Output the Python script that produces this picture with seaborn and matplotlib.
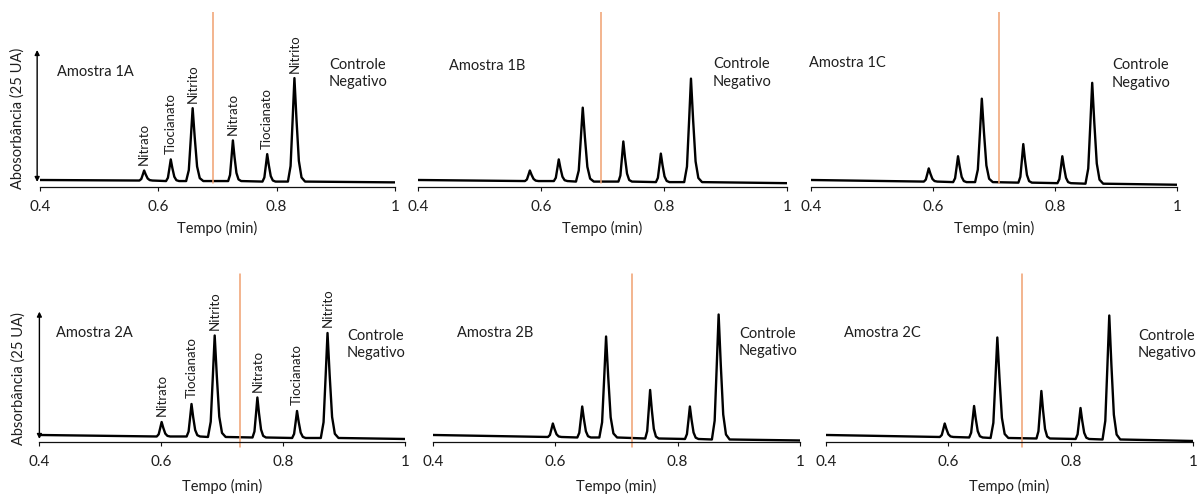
import numpy as np
import pandas as pd
import seaborn as sns
import matplotlib
matplotlib.use('Agg')
import matplotlib.pyplot as plt

# cromatogramas: tempo (min) e absorbancia (UA)
tempo_1a = [0.40,
            0.568, 0.5712, 0.5738, 0.576, 0.5787, 0.582, 0.5855, 0.590,
            0.613, 0.6162, 0.6188, 0.621, 0.6237, 0.627, 0.6305, 0.635,
            0.647, 0.6515, 0.655, 0.658, 0.6615, 0.6655, 0.670, 0.676,
            0.718, 0.7212, 0.7238, 0.726, 0.7287, 0.732, 0.7355, 0.740,
            0.776, 0.7792, 0.7818, 0.784, 0.7867, 0.790, 0.7935, 0.798,
            0.819, 0.8235, 0.827, 0.830, 0.8335, 0.8375, 0.842, 0.848,
            1.00]
abs_1a = [0.0,
          -0.1, 0.19, 1.04, 1.8, 1.04, 0.28, -0.02, -0.1,
          -0.2, 0.42, 2.26, 3.9, 2.26, 0.62, -0.04, -0.2,
          -0.2, 1.87, 8.08, 13.6, 8.08, 2.56, 0.35, -0.2,
          -0.2, 0.96, 4.42, 7.5, 4.42, 1.34, 0.11, -0.2,
          -0.3, 0.48, 2.82, 4.9, 2.82, 0.74, -0.09, -0.3,
          -0.3, 2.64, 11.46, 19.3, 11.46, 3.62, 0.48, -0.3,
          -0.45]

tempo_1b = [0.40,
            0.574, 0.5772, 0.5798, 0.582, 0.5847, 0.588, 0.5915, 0.596,
            0.621, 0.6242, 0.6268, 0.629, 0.6317, 0.635, 0.6385, 0.643,
            0.657, 0.6615, 0.665, 0.668, 0.6715, 0.6755, 0.680, 0.686,
            0.726, 0.7292, 0.7318, 0.734, 0.7367, 0.740, 0.7435, 0.748,
            0.787, 0.7902, 0.7928, 0.795, 0.7977, 0.801, 0.8045, 0.809,
            0.833, 0.8375, 0.841, 0.844, 0.8475, 0.8515, 0.856, 0.862,
            1.00]
abs_1b = [0.0,
          -0.2, 0.1, 1.0, 1.8, 1.0, 0.2, -0.12, -0.2,
          -0.2, 0.42, 2.26, 3.9, 2.26, 0.62, -0.04, -0.2,
          -0.3, 1.8, 8.1, 13.7, 8.1, 2.5, 0.26, -0.3,
          -0.3, 0.84, 4.26, 7.3, 4.26, 1.22, 0.0, -0.3,
          -0.4, 0.41, 2.84, 5.0, 2.84, 0.68, -0.18, -0.4,
          -0.4, 2.54, 11.36, 19.2, 11.36, 3.52, 0.38, -0.4,
          -0.6]

tempo_1c = [0.40,
            0.585, 0.5882, 0.5908, 0.593, 0.5957, 0.599, 0.6025, 0.607,
            0.633, 0.6362, 0.6388, 0.641, 0.6437, 0.647, 0.6505, 0.655,
            0.669, 0.6735, 0.677, 0.680, 0.6835, 0.6875, 0.692, 0.698,
            0.740, 0.7432, 0.7458, 0.748, 0.7507, 0.754, 0.7575, 0.762,
            0.804, 0.8072, 0.8098, 0.812, 0.8147, 0.818, 0.8215, 0.826,
            0.850, 0.8545, 0.858, 0.861, 0.8645, 0.8685, 0.873, 0.879,
            1.00]
abs_1c = [0.0,
          -0.3, 0.08, 1.2, 2.2, 1.2, 0.2, -0.2, -0.3,
          -0.4, 0.34, 2.54, 4.5, 2.54, 0.58, -0.2, -0.4,
          -0.4, 1.97, 9.08, 15.4, 9.08, 2.76, 0.23, -0.4,
          -0.5, 0.6, 3.88, 6.8, 3.88, 0.96, -0.21, -0.5,
          -0.6, 0.17, 2.46, 4.5, 2.46, 0.42, -0.4, -0.6,
          -0.7, 2.17, 10.76, 18.4, 10.76, 3.12, 0.06, -0.7,
          -0.9]

tempo_2a = [0.40,
            0.593, 0.5962, 0.5988, 0.601, 0.6037, 0.607, 0.6105, 0.615,
            0.642, 0.6452, 0.6478, 0.650, 0.6527, 0.656, 0.6595, 0.664,
            0.677, 0.6815, 0.685, 0.688, 0.6915, 0.6955, 0.700, 0.706,
            0.750, 0.7532, 0.7558, 0.758, 0.7607, 0.764, 0.7675, 0.772,
            0.815, 0.8182, 0.8208, 0.823, 0.8257, 0.829, 0.8325, 0.837,
            0.862, 0.8665, 0.870, 0.873, 0.8765, 0.8805, 0.885, 0.891,
            1.00]
abs_2a = [0.0,
          -0.3, 0.14, 1.44, 2.6, 1.44, 0.28, -0.18, -0.3,
          -0.3, 0.68, 3.6, 6.2, 3.6, 1.0, -0.04, -0.3,
          -0.4, 2.65, 11.78, 19.9, 11.78, 3.66, 0.41, -0.4,
          -0.5, 0.7, 4.3, 7.5, 4.3, 1.1, -0.18, -0.5,
          -0.6, 0.21, 2.64, 4.8, 2.64, 0.48, -0.38, -0.6,
          -0.6, 2.55, 12.0, 20.4, 12.0, 3.6, 0.24, -0.6,
          -0.8]

tempo_2b = [0.40,
            0.588, 0.5912, 0.5938, 0.596, 0.5987, 0.602, 0.6055, 0.610,
            0.636, 0.6392, 0.6418, 0.644, 0.6467, 0.650, 0.6535, 0.658,
            0.672, 0.6765, 0.680, 0.683, 0.6865, 0.6905, 0.695, 0.701,
            0.747, 0.7502, 0.7528, 0.755, 0.7577, 0.761, 0.7645, 0.769,
            0.812, 0.8152, 0.8178, 0.820, 0.8227, 0.826, 0.8295, 0.834,
            0.856, 0.8605, 0.864, 0.867, 0.8705, 0.8745, 0.879, 0.885,
            1.00]
abs_2b = [0.0,
          -0.4, 0.0, 1.22, 2.3, 1.22, 0.14, -0.29, -0.4,
          -0.5, 0.43, 3.22, 5.7, 3.22, 0.74, -0.25, -0.5,
          -0.5, 2.53, 11.62, 19.7, 11.62, 3.54, 0.31, -0.5,
          -0.7, 0.76, 5.12, 9.0, 5.12, 1.24, -0.31, -0.7,
          -0.8, 0.18, 3.1, 5.7, 3.1, 0.5, -0.54, -0.8,
          -0.9, 2.85, 14.1, 24.1, 14.1, 4.1, 0.1, -0.9,
          -1.1]

tempo_2c = [0.40,
            0.586, 0.5892, 0.5918, 0.594, 0.5967, 0.600, 0.6035, 0.608,
            0.634, 0.6372, 0.6398, 0.642, 0.6447, 0.648, 0.6515, 0.656,
            0.669, 0.6735, 0.677, 0.680, 0.6835, 0.6875, 0.692, 0.698,
            0.744, 0.7472, 0.7498, 0.752, 0.7547, 0.758, 0.7615, 0.766,
            0.808, 0.8112, 0.8138, 0.816, 0.8187, 0.822, 0.8255, 0.830,
            0.852, 0.8565, 0.860, 0.863, 0.8665, 0.8705, 0.875, 0.881,
            1.00]
abs_2c = [0.0,
          -0.4, 0.0, 1.22, 2.3, 1.22, 0.14, -0.29, -0.4,
          -0.5, 0.45, 3.28, 5.8, 3.28, 0.76, -0.25, -0.5,
          -0.6, 2.42, 11.46, 19.5, 11.46, 3.42, 0.2, -0.6,
          -0.7, 0.73, 5.0, 8.8, 5.0, 1.2, -0.32, -0.7,
          -0.8, 0.13, 2.92, 5.4, 2.92, 0.44, -0.55, -0.8,
          -0.9, 2.82, 13.98, 23.9, 13.98, 4.06, 0.09, -0.9,
          -1.2]

# picos identificados (so nos paineis A)
nomes_picos = ['Nitrato', 'Tiocianato', 'Nitrito', 'Nitrato', 'Tiocianato', 'Nitrito']
picos_1a = [0.576, 0.621, 0.658, 0.726, 0.784, 0.830]
picos_2a = [0.601, 0.650, 0.688, 0.758, 0.823, 0.873]

# separacao amostra / controle negativo
corte = {'1A': 0.692, '1B': 0.698, '1C': 0.709, '2A': 0.729, '2B': 0.726, '2C': 0.721}

sns.set_theme(style='white')
plt.rcParams['font.family'] = ['Lato', 'DejaVu Sans']
plt.rcParams['text.color'] = '#1e1e1e'
plt.rcParams['axes.labelcolor'] = '#1e1e1e'
plt.rcParams['xtick.color'] = '#1e1e1e'

fig = plt.figure(figsize=(12.01, 4.97), dpi=100)

paineis = [
    ('1A', tempo_1a, abs_1a, [0.0333, 0.6237, 0.2956, 0.3521], 0),
    ('1B', tempo_1b, abs_1b, [0.3480, 0.6237, 0.3072, 0.3521], 0),
    ('1C', tempo_1c, abs_1c, [0.6753, 0.6237, 0.3047, 0.3521], 0),
    ('2A', tempo_2a, abs_2a, [0.0325, 0.1107, 0.3047, 0.3380], 1),
    ('2B', tempo_2b, abs_2b, [0.3605, 0.1107, 0.3056, 0.3380], 1),
    ('2C', tempo_2c, abs_2c, [0.6878, 0.1107, 0.3056, 0.3380], 1),
]

# posicoes dos textos (fracao do eixo)
pos_amostra = {'1A': (0.048, 0.657), '1B': (0.084, 0.69), '1C': (-0.005, 0.707),
               '2A': (0.046, 0.649), '2B': (0.065, 0.649), '2C': (0.049, 0.649)}
pos_controle = {'1A': (0.814, 0.649), '1B': (0.80, 0.653), '1C': (0.822, 0.644),
                '2A': (0.841, 0.58), '2B': (0.834, 0.592), '2C': (0.85, 0.58)}

for nome, t, a, rect, linha in paineis:
    ax = fig.add_axes(rect)
    df = pd.DataFrame({'Tempo': t, 'Abs': a})
    sns.lineplot(data=df, x='Tempo', y='Abs', ax=ax, color='black', lw=1.7,
                 estimator=None, sort=False)

    if linha == 0:
        ax.set_ylim(-1.33, 31.81)
        ax.axvline(corte[nome], ymin=0.025, ymax=1, color='#F0A070', lw=1.1)
    else:
        ax.set_ylim(-1.4, 32.2)
        ax.axvline(corte[nome], ymin=-0.03, ymax=1, color='#F0A070', lw=1.1,
                   clip_on=False)
    ax.set_xlim(0.4, 1.0)
    ax.set_xticks([0.4, 0.6, 0.8, 1.0])
    ax.set_xticklabels(['0.4', '0.6', '0.8', '1'])
    ax.set_yticks([])
    for s in ['left', 'top', 'right']:
        ax.spines[s].set_visible(False)
    ax.spines['bottom'].set_color('#111111')
    ax.spines['bottom'].set_linewidth(0.9)
    ax.tick_params(axis='x', bottom=True, direction='out', length=3, width=0.8,
                   pad=6.5, labelsize=11, color='#111111')
    ax.set_xlabel('Tempo (min)', fontsize=10.5, labelpad=5 if linha == 0 else 7)
    ax.set_ylabel('')

    ax.text(*pos_amostra[nome], 'Amostra ' + nome, transform=ax.transAxes,
            fontsize=10.5, ha='left', va='center')
    ax.text(*pos_controle[nome], 'Controle\nNegativo', transform=ax.transAxes,
            fontsize=10.5, ha='left', va='center', linespacing=1.35)

    if nome in ('1A', '2A'):
        picos = picos_1a if nome == '1A' else picos_2a
        for nm, tp in zip(nomes_picos, picos):
            ap = np.interp(tp, t, a)
            ax.annotate(nm, xy=(tp, ap), xytext=(0, 4), textcoords='offset points',
                        rotation=90, ha='center', va='bottom', fontsize=9.5)
        # seta do eixo de absorbancia
        if nome == '1A':
            xa, ytop, ybot = -0.008, 0.783, 0.029
            rotulo, ly = 'Abosorbância (25 UA)', (-0.062, 0.394)
        else:
            xa, ytop, ybot = 0.001, 0.776, 0.018
            rotulo, ly = 'Absorbância (25 UA)', (-0.057, 0.375)
        ax.annotate('', xy=(xa, ytop), xytext=(xa, ybot), xycoords='axes fraction',
                    textcoords='axes fraction',
                    arrowprops=dict(arrowstyle='<|-|>', color='black', lw=1,
                                    mutation_scale=7, shrinkA=0, shrinkB=0))
        ax.text(ly[0], ly[1], rotulo, transform=ax.transAxes, rotation=90,
                ha='center', va='center', fontsize=10.5)

fig.savefig('out.png', dpi=100)
